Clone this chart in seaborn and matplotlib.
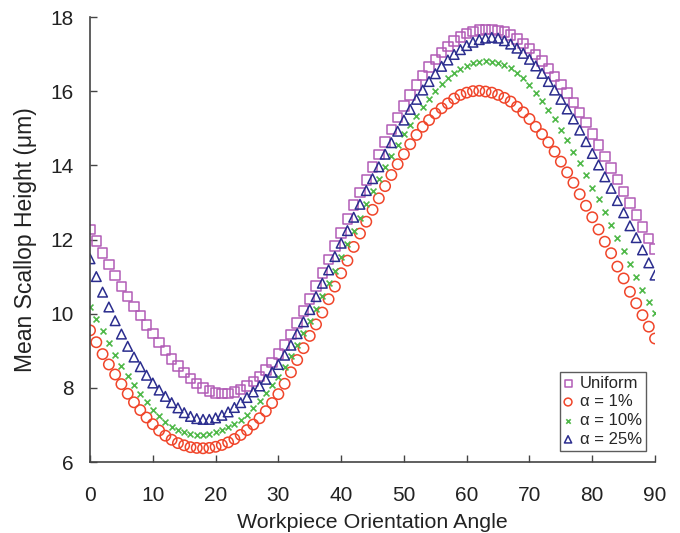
import numpy as np
import pandas as pd
import matplotlib
matplotlib.use("Agg")
import matplotlib.pyplot as plt
import seaborn as sns

# Orientation angles (degrees), one sample per degree
angles = list(range(0, 91))

uniform = [
    12.27, 11.96, 11.64, 11.33, 11.03, 10.74, 10.47, 10.20, 9.95, 9.70,
    9.46, 9.22, 9.00, 8.78, 8.59, 8.41, 8.25, 8.11, 7.99, 7.91,
    7.86, 7.84, 7.85, 7.89, 7.96, 8.05, 8.17, 8.31, 8.48, 8.68,
    8.91, 9.16, 9.44, 9.75, 10.07, 10.40, 10.75, 11.10, 11.46, 11.82,
    12.18, 12.55, 12.93, 13.27, 13.60, 13.95, 14.30, 14.63, 14.97, 15.29,
    15.60, 15.90, 16.17, 16.42, 16.65, 16.86, 17.05, 17.21, 17.35, 17.46,
    17.55, 17.61, 17.65, 17.67, 17.67, 17.64, 17.59, 17.51, 17.41, 17.29,
    17.15, 16.99, 16.81, 16.61, 16.40, 16.18, 15.95, 15.70, 15.43, 15.15,
    14.85, 14.55, 14.24, 13.93, 13.62, 13.30, 12.98, 12.66, 12.34, 12.03,
    11.74,
]

alpha_1 = [
    9.55, 9.23, 8.91, 8.63, 8.36, 8.10, 7.84, 7.61, 7.40, 7.20,
    7.02, 6.85, 6.71, 6.60, 6.51, 6.45, 6.40, 6.38, 6.37, 6.38,
    6.41, 6.46, 6.53, 6.62, 6.73, 6.86, 7.01, 7.18, 7.37, 7.59,
    7.83, 8.11, 8.42, 8.75, 9.07, 9.40, 9.71, 10.03, 10.39, 10.73,
    11.09, 11.43, 11.80, 12.16, 12.48, 12.80, 13.11, 13.44, 13.74, 14.03,
    14.30, 14.57, 14.82, 15.04, 15.22, 15.40, 15.54, 15.67, 15.80, 15.90,
    15.96, 16.00, 16.01, 15.99, 15.96, 15.90, 15.82, 15.72, 15.58, 15.43,
    15.25, 15.04, 14.84, 14.62, 14.37, 14.10, 13.81, 13.53, 13.22, 12.91,
    12.60, 12.27, 11.94, 11.63, 11.27, 10.95, 10.59, 10.28, 9.96, 9.65,
    9.33,
]

alpha_10 = [
    10.17, 9.86, 9.54, 9.22, 8.89, 8.60, 8.33, 8.08, 7.84, 7.61,
    7.40, 7.23, 7.08, 6.95, 6.86, 6.80, 6.76, 6.74, 6.74, 6.76,
    6.80, 6.86, 6.94, 7.03, 7.14, 7.28, 7.45, 7.65, 7.86, 8.08,
    8.30, 8.57, 8.86, 9.15, 9.47, 9.81, 10.13, 10.48, 10.82, 11.16,
    11.52, 11.87, 12.22, 12.58, 12.95, 13.30, 13.63, 13.95, 14.26, 14.56,
    14.84, 15.10, 15.34, 15.56, 15.80, 16.01, 16.20, 16.36, 16.48, 16.59,
    16.69, 16.76, 16.80, 16.81, 16.80, 16.77, 16.71, 16.62, 16.50, 16.35,
    16.16, 15.95, 15.73, 15.50, 15.24, 14.96, 14.68, 14.37, 14.06, 13.74,
    13.40, 13.08, 12.75, 12.40, 12.04, 11.68, 11.33, 10.98, 10.64, 10.32,
    10.01,
]

alpha_25 = [
    11.48, 11.00, 10.58, 10.18, 9.81, 9.45, 9.12, 8.83, 8.57, 8.34,
    8.13, 7.94, 7.77, 7.60, 7.46, 7.33, 7.23, 7.17, 7.15, 7.15,
    7.19, 7.26, 7.35, 7.47, 7.60, 7.74, 7.89, 8.05, 8.23, 8.42,
    8.63, 8.88, 9.15, 9.46, 9.78, 10.11, 10.46, 10.82, 11.18, 11.54,
    11.90, 12.24, 12.60, 12.95, 13.32, 13.64, 13.96, 14.30, 14.61, 14.92,
    15.22, 15.51, 15.78, 16.03, 16.26, 16.47, 16.67, 16.84, 16.99, 17.12,
    17.23, 17.32, 17.39, 17.43, 17.45, 17.43, 17.36, 17.27, 17.16, 17.02,
    16.86, 16.68, 16.48, 16.26, 16.03, 15.78, 15.52, 15.25, 14.95, 14.64,
    14.32, 14.01, 13.69, 13.38, 13.05, 12.72, 12.37, 12.05, 11.72, 11.37,
    11.04,
]

series_labels = ["Uniform", "α = 1%", "α = 10%", "α = 25%"]
x_ticks = [0, 10, 20, 30, 40, 50, 60, 70, 80, 90]
y_ticks = [6, 8, 10, 12, 14, 16, 18]

sns.set_style("ticks")
plt.rcParams["font.family"] = ["Liberation Sans", "DejaVu Sans"]

fig = plt.figure(figsize=(6.8, 5.33), dpi=100)
ax = fig.add_axes([0.1324, 0.1332, 0.8309, 0.8349])

styles = [
    dict(marker="s", s=46, facecolor="none", edgecolor="#b25cb6", linewidth=1.1),
    dict(marker="o", s=56, facecolor="none", edgecolor="#f0452a", linewidth=1.1),
    dict(marker="x", s=18, color="#4fb848", linewidth=1.2),
    dict(marker="^", s=48, facecolor="none", edgecolor="#2b2d8e", linewidth=1.1),
]

for vals, lab, st in zip([uniform, alpha_1, alpha_10, alpha_25], series_labels, styles):
    df = pd.DataFrame({"angle": angles, "height": vals})
    sns.scatterplot(data=df, x="angle", y="height", ax=ax, label=lab, **st)

ax.set_xlim(0, 90)
ax.set_ylim(6, 18)
ax.set_xticks(x_ticks)
ax.set_yticks(y_ticks)
ax.set_xlabel("Workpiece Orientation Angle", fontsize=15.4, color="#222222", labelpad=6)
ax.set_ylabel("Mean Scallop Height (μm)", fontsize=16.5, color="#222222", labelpad=9)

for side in ("top", "right"):
    ax.spines[side].set_visible(False)
for side in ("left", "bottom"):
    ax.spines[side].set_color("#444444")
    ax.spines[side].set_linewidth(1.2)
ax.tick_params(direction="in", length=5, width=1.0, colors="#444444",
               labelsize=15, labelcolor="#222222")
ax.tick_params(axis="x", pad=17)
ax.tick_params(axis="y", pad=12)

leg = ax.legend(loc="lower right", bbox_to_anchor=(0.984, 0.025), fontsize=12,
                frameon=True, fancybox=False, edgecolor="#333333",
                handlelength=0.5, handletextpad=0.45, borderpad=0.25,
                labelspacing=0.22, borderaxespad=0.0, markerscale=0.75)
leg.get_frame().set_linewidth(1.0)

fig.savefig("out.png", dpi=100)
